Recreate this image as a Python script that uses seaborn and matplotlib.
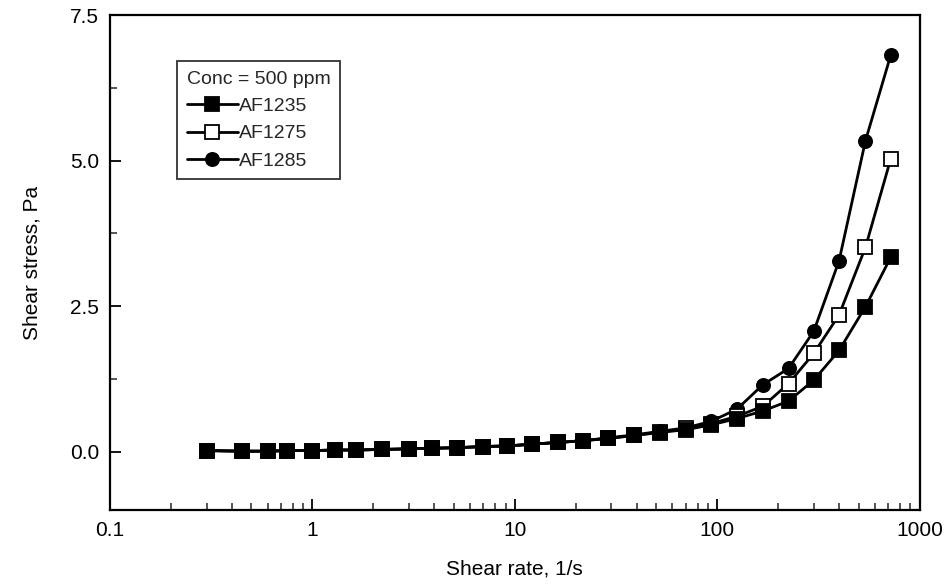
import matplotlib
matplotlib.use("Agg")
import matplotlib.pyplot as plt
import seaborn as sns
import pandas as pd
import numpy as np
from matplotlib.ticker import LogLocator, FixedLocator, MultipleLocator, NullFormatter, FuncFormatter

# ---- data ----
shear_rate = [0.3, 0.45, 0.6, 0.75, 1.0, 1.3, 1.65, 2.2, 3.0, 3.9, 5.2, 7.0, 9.2,
              12.2, 16.3, 21.8, 29, 39, 52, 70, 93, 125, 168, 225, 300, 400, 540, 720]
af1235 = [0.02, 0.01, 0.01, 0.02, 0.02, 0.03, 0.03, 0.04, 0.05, 0.06, 0.07, 0.09, 0.10,
          0.13, 0.16, 0.19, 0.23, 0.28, 0.33, 0.38, 0.46, 0.57, 0.70, 0.87, 1.23, 1.74, 2.49, 3.34]
af1275 = [0.02, 0.01, 0.01, 0.02, 0.02, 0.03, 0.03, 0.04, 0.05, 0.06, 0.07, 0.09, 0.10,
          0.13, 0.16, 0.19, 0.23, 0.28, 0.34, 0.40, 0.48, 0.61, 0.78, 1.17, 1.69, 2.35, 3.51, 5.03]
af1285 = [0.02, 0.01, 0.01, 0.02, 0.02, 0.03, 0.03, 0.04, 0.05, 0.06, 0.07, 0.09, 0.10,
          0.13, 0.16, 0.19, 0.24, 0.29, 0.35, 0.41, 0.52, 0.73, 1.15, 1.43, 2.07, 3.28, 5.34, 6.81]
series_names = ["AF1235", "AF1275", "AF1285"]
legend_title = "Conc = 500 ppm"
x_label = "Shear rate, 1/s"
y_label = "Shear stress, Pa"
x_ticks = [0.1, 1, 10, 100, 1000]
x_ticklabels = ["0.1", "1", "10", "100", "1000"]
y_ticks = [0.0, 2.5, 5.0, 7.5]

sns.set_theme(style="white")
plt.rcParams["font.family"] = ["Liberation Sans", "DejaVu Sans"]

df = pd.DataFrame({
    "rate": shear_rate * 3,
    "stress": af1235 + af1275 + af1285,
    "series": sum([[n] * len(shear_rate) for n in series_names], []),
})

fig = plt.figure(figsize=(9.51, 5.86), dpi=100)
ax = fig.add_axes([0.1157, 0.1297, 0.8513, 0.8447])

styles = {
    "AF1235": dict(marker="s", mfc="black", z=5),
    "AF1275": dict(marker="s", mfc="white", z=4),
    "AF1285": dict(marker="o", mfc="black", z=3),
}
for name in series_names:
    sub = df[df["series"] == name]
    st = styles[name]
    sns.lineplot(data=sub, x="rate", y="stress", ax=ax, color="black",
                 linewidth=2.0, marker=st["marker"], markersize=9.5,
                 markerfacecolor=st["mfc"], markeredgecolor="black",
                 markeredgewidth=1.3, label=name, estimator=None, sort=False,
                 zorder=st["z"])

ax.set_xscale("log")
ax.set_xlim(0.1, 1000)
ax.set_ylim(-1.0, 7.5)
ax.xaxis.set_major_locator(FixedLocator(x_ticks))
ax.set_xticklabels(x_ticklabels)
ax.xaxis.set_minor_locator(LogLocator(base=10, subs=np.arange(2, 10)))
ax.xaxis.set_minor_formatter(NullFormatter())
ax.yaxis.set_major_locator(FixedLocator(y_ticks))
ax.yaxis.set_major_formatter(FuncFormatter(lambda v, p: f"{v:.1f}"))
ax.yaxis.set_minor_locator(MultipleLocator(1.25))

ax.tick_params(axis="both", which="major", direction="in", length=8, width=1.3,
               labelsize=15, colors="black", pad=8, bottom=True, left=True,
               top=False, right=False)
ax.tick_params(axis="both", which="minor", direction="in", length=5, width=1.1,
               bottom=True, left=True, top=False, right=False)

for s in ax.spines.values():
    s.set_visible(True)
    s.set_color("black")
    s.set_linewidth(1.6)

ax.set_xlabel(x_label, fontsize=15, labelpad=14, color="black")
ax.set_ylabel(y_label, fontsize=15, labelpad=20, color="black")
ax.grid(False)

leg = ax.legend(title=legend_title, loc="upper left", bbox_to_anchor=(0.083, 0.907),
                borderaxespad=0, frameon=True, fancybox=False, shadow=False,
                fontsize=14, title_fontsize=14, handlelength=2.6,
                handletextpad=0.1, labelspacing=0.5, borderpad=0.5,
                edgecolor="black")
leg._legend_box.align = "left"
leg.get_frame().set_linewidth(1.3)
leg.set_zorder(10)

fig.savefig("out.png", dpi=100)
